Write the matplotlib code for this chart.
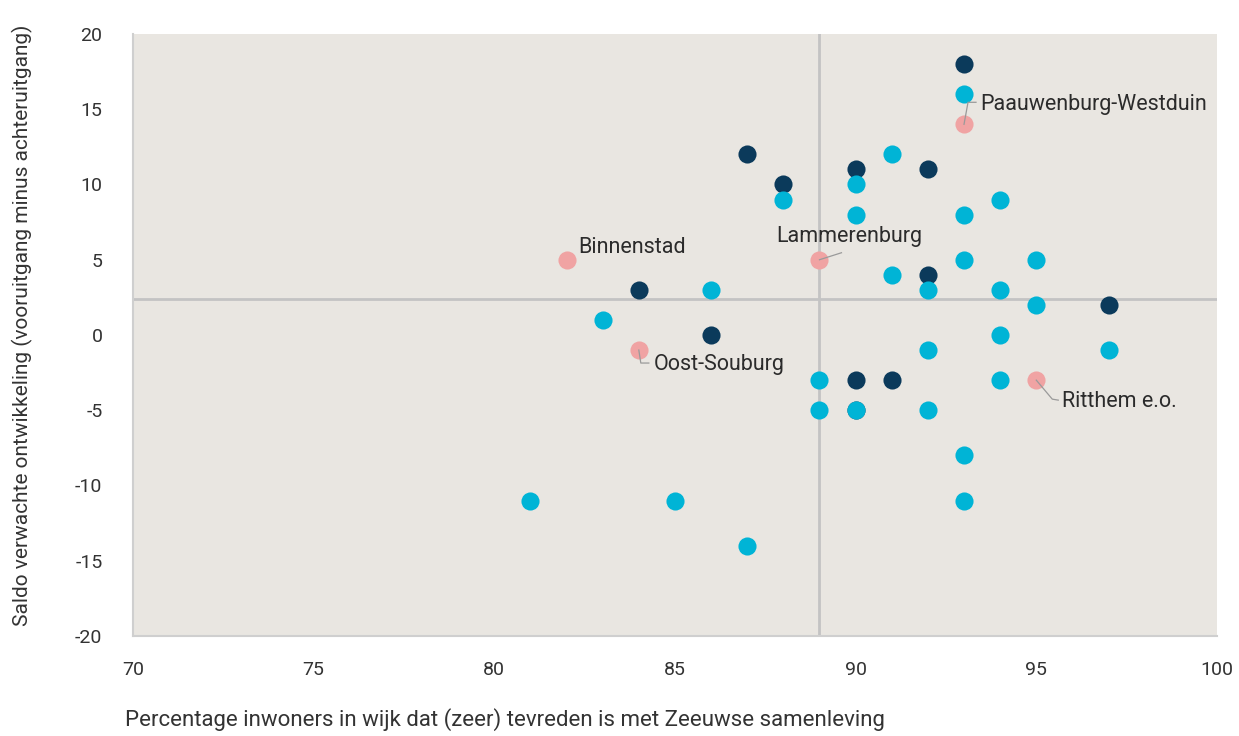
import matplotlib.pyplot as plt
from matplotlib.lines import Line2D
from matplotlib.transforms import IdentityTransform

plt.rcParams['font.family'] = ['Roboto', 'DejaVu Sans']
plt.rcParams['axes.unicode_minus'] = False

# wijken: tevredenheid (x) en saldo verwachte ontwikkeling (y)
navy_x = [93, 87, 88, 90, 92, 92, 84, 86, 97, 90, 91, 90]
navy_y = [18, 12, 10, 11, 11, 4, 3, 0, 2, -3, -3, -5]

cyan_x = [93, 91, 88, 90, 90, 93, 94, 93, 95, 91, 92, 86, 94, 95, 83, 94,
          92, 97, 94, 89, 89, 90, 92, 93, 81, 85, 93, 87]
cyan_y = [16, 12, 9, 10, 8, 8, 9, 5, 5, 4, 3, 3, 3, 2, 1, 0,
          -1, -1, -3, -3, -5, -5, -5, -8, -11, -11, -11, -14]

pink_names = ["Binnenstad", "Lammerenburg", "Oost-Souburg", "Paauwenburg-Westduin", "Ritthem e.o."]
pink_x = [82, 89, 84, 93, 95]
pink_y = [5, 5, -1, 14, -3]

ref_x = 89
ref_y = 2.4

fig = plt.figure(figsize=(12.39, 7.36), dpi=100)
ax = fig.add_axes([0.1073, 0.1359, 0.8749, 0.8179])
ax.set_facecolor('#e9e6e1')

ax.axvline(ref_x, color='#c3c3c3', lw=2, zorder=1)
ax.axhline(ref_y, color='#c3c3c3', lw=2, zorder=1)

s = 170
ax.scatter(navy_x, navy_y, s=s, color='#0b3a5b', lw=0, zorder=3)
ax.scatter(cyan_x, cyan_y, s=s, color='#00b4d6', lw=0, zorder=3)
ax.scatter(pink_x, pink_y, s=s, color='#f0a3a3', lw=0, zorder=3)

ax.set_xlim(70, 100)
ax.set_ylim(-20, 20)

# label offset (px) and leader line vertices (px, relative to point)
label_pos = {
    "Binnenstad": ((12, 12), None),
    "Lammerenburg": ((-43, 23), [(0, 0), (22, 7)]),
    "Oost-Souburg": ((15, -14), [(0, 0), (2, -13), (10, -13)]),
    "Paauwenburg-Westduin": ((16, 20), [(0, 0), (4, 22), (12, 22)]),
    "Ritthem e.o.": ((26, -21), [(0, 0), (16, -19), (22, -20)]),
}
pt = 72 / fig.dpi
for name, px, py in zip(pink_names, pink_x, pink_y):
    (dx, dy), verts = label_pos[name]
    ax.annotate(name, (px, py), xytext=(dx * pt, dy * pt), textcoords='offset points',
                fontsize=15.5, color='#2b2b2b', ha='left', va='center', zorder=5)
    if verts is not None:
        cx, cy = ax.transData.transform((px, py))
        line = Line2D([cx + v[0] for v in verts], [cy + v[1] for v in verts],
                      transform=IdentityTransform(), color='#9a9a9a', lw=0.9, zorder=4)
        ax.add_artist(line)

ax.set_xticks(range(70, 101, 5))
ax.set_yticks(range(-20, 21, 5))
ax.tick_params(length=0, labelsize=14, labelcolor='#333333')
ax.tick_params(axis='x', pad=18)
ax.tick_params(axis='y', pad=22)
for sp in ['top', 'right']:
    ax.spines[sp].set_visible(False)
for sp in ['left', 'bottom']:
    ax.spines[sp].set_color('#cfcfcf')
    ax.spines[sp].set_linewidth(1.5)

fig.text(125 / 1239, 1 - 720 / 736, "Percentage inwoners in wijk dat (zeer) tevreden is met Zeeuwse samenleving",
         fontsize=16, color='#333333', ha='left', va='center')
fig.text(22 / 1239, 1 - 325 / 736, "Saldo verwachte ontwikkeling (vooruitgang minus achteruitgang)",
         fontsize=15, color='#333333', ha='center', va='center', rotation=90)

fig.savefig("out.png", dpi=100)
